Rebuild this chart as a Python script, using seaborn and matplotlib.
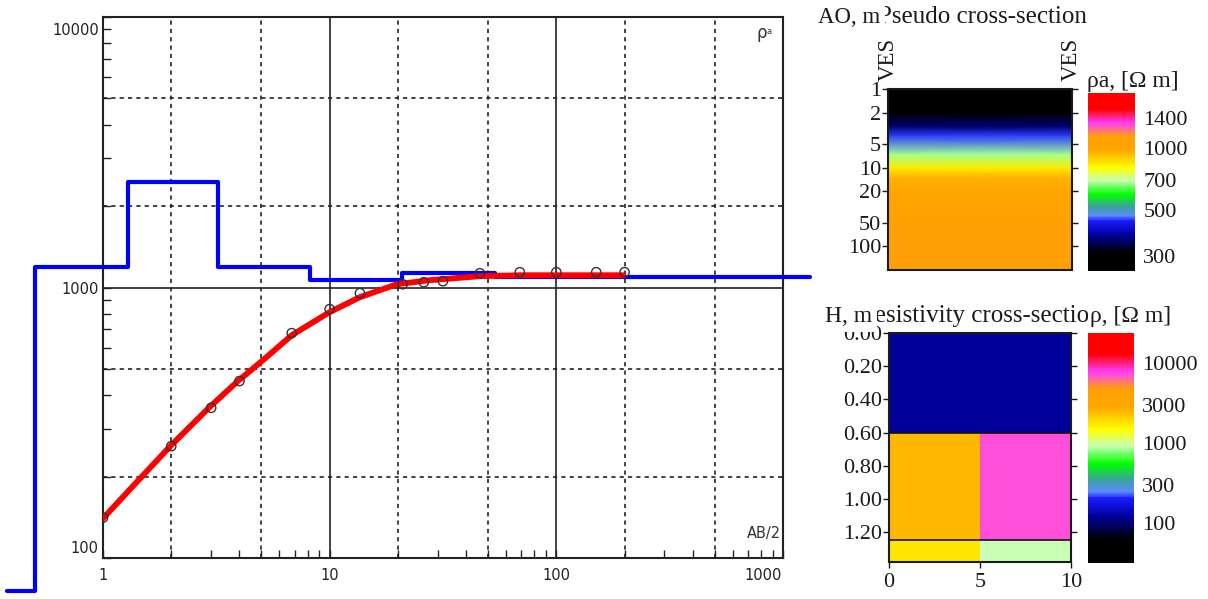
import numpy as np
import pandas as pd
import matplotlib
matplotlib.use('Agg')
import matplotlib.pyplot as plt
import seaborn as sns
from matplotlib.colors import LinearSegmentedColormap, LogNorm
from matplotlib.transforms import ScaledTranslation

# observed apparent resistivity (circles)
ab2_obs = [1, 2, 3, 4, 6.8, 10, 13.6, 21, 26, 31.6, 46, 69, 100, 150, 200]
rho_obs = [141, 259, 359, 451, 678, 832, 953, 1028, 1046, 1055, 1129, 1139, 1139, 1139, 1139]

# fitted curve (red)
ab2_fit = [1.0, 1.32, 1.98, 2.96, 3.94, 5.03, 6.82, 10.0, 13.6, 19.8, 27.6, 46, 69, 100, 197]
rho_fit = [140, 180, 259, 362, 451, 535, 667, 811, 921, 1028, 1064, 1101, 1110, 1110, 1110]

# layered model (blue step line)
depth_model = [0.377, 0.5, 0.5, 1.29, 1.29, 3.22, 3.22, 8.19, 8.19, 20.8, 20.8, 53.6, 53.6, 1315]
rho_model = [75.7, 75.7, 1188, 1188, 2450, 2450, 1190, 1190, 1064, 1064, 1129, 1129, 1091, 1091]

# grid lines of the sounding chart
xgrid_dashed = [2, 5, 20, 50, 200, 500]
xgrid_solid = [10, 100]
ygrid_dashed = [200, 500, 2000, 5000]
ygrid_solid = [1000]

# pseudo section axis
ao_ticks = [1, 2, 5, 10, 20, 50, 100]
cbar_top_ticks = [300, 500, 700, 1000, 1400]

# resistivity cross-section
res_x = [0, 5, 10]
res_depth = [0, 0.6, 1.25, 1.38]
res_rho = [[119, 119], [2480, 7200], [1745, 925]]
h_ticks = [0, 0.2, 0.4, 0.6, 0.8, 1.0, 1.2]
cbar_bot_ticks = [100, 300, 1000, 3000, 10000]

# colour scale
cmap_pos = [0, 0.10, 0.20, 0.28, 0.31, 0.36, 0.43, 0.51, 0.58, 0.68, 0.755, 0.785, 0.83, 0.91, 1.0]
cmap_col = ['#000000', '#000000', '#00009a', '#1a1aff', '#5a8cff', '#3ca0a0', '#00ff00',
            '#c8ffb4', '#ffff00', '#ffa500', '#ffa200', '#ff7f60', '#ff40ff', '#ff0000', '#ff0000']
cmap = LinearSegmentedColormap.from_list('ipi', list(zip(cmap_pos, cmap_col)))
norm_top = LogNorm(254, 1840)
norm_bot = LogNorm(31.6, 23700)

sns.set_theme(style='white')
plt.rcParams['font.family'] = ['DejaVu Sans']

W, H = 1208, 599
fig = plt.figure(figsize=(W / 100, H / 100), dpi=100)


def box(l, t, r, b):
    return [l / W, 1 - b / H, (r - l) / W, (b - t) / H]


def fx(px):
    return px / W


def fy(py):
    return 1 - py / H


def shift(label, dx, dy):
    label.set_transform(label.get_transform() + ScaledTranslation(dx / 100, dy / 100, fig.dpi_scale_trans))


serif = 'Liberation Serif'
ink = '#1a1a1a'

# ---- sounding curve ----
ax = fig.add_axes(box(103, 17, 783, 558))
ax.set_xscale('log')
ax.set_yscale('log')
ax.set_xlim(1, 1000)
ax.set_ylim(100, 10000)

for v in xgrid_dashed:
    ax.axvline(v, color='#222', lw=1.2, ls=(0, (2.5, 2.5)), zorder=1)
for v in xgrid_solid:
    ax.axvline(v, color='#222', lw=1.2, zorder=1)
for v in ygrid_dashed:
    ax.axhline(v, color='#222', lw=1.2, ls=(0, (2.5, 2.5)), zorder=1)
for v in ygrid_solid:
    ax.axhline(v, color='#222', lw=1.2, zorder=1)

model = pd.DataFrame({'depth': depth_model, 'rho': rho_model})
fit = pd.DataFrame({'ab2': ab2_fit, 'rho': rho_fit})
obs = pd.DataFrame({'ab2': ab2_obs, 'rho': rho_obs})
sns.lineplot(data=model, x='depth', y='rho', sort=False, estimator=None, color='#0000ff',
             lw=3, ax=ax, clip_on=False, zorder=3)
sns.lineplot(data=fit, x='ab2', y='rho', sort=False, estimator=None, color='#ff0000',
             lw=4.2, ax=ax, zorder=4)
sns.scatterplot(data=obs, x='ab2', y='rho', marker='o', s=45, facecolor='none',
                edgecolor='#333', linewidth=1, ax=ax, zorder=5)
ax.set_xlabel('')
ax.set_ylabel('')

ax.set_xticks([1, 10, 100, 1000], ['1', '10', '100', '1000'])
ax.set_yticks([100, 1000, 10000], ['100', '1000', '10000'])
minor = [k * 10 ** e for e in range(3) for k in range(2, 10)]
ax.set_xticks(minor, minor=True)
ax.set_yticks([m * 100 for m in minor[:16]], minor=True)
ax.set_xticklabels([], minor=True)
ax.set_yticklabels([], minor=True)
ax.tick_params(which='both', direction='in', length=6, width=1, color='#222',
               labelsize=10.5, labelcolor='#222', bottom=True, left=True)
ax.tick_params(axis='x', which='major', pad=7)
ax.tick_params(axis='y', which='major', pad=3)
for s in ax.spines.values():
    s.set_color('#222')
    s.set_linewidth(1.5)
yt = ax.yaxis.get_major_ticks()
shift(yt[0].label1, 0, 11)
shift(yt[-1].label1, 0, -12)
xt = ax.xaxis.get_major_ticks()
shift(xt[-1].label1, -20, 0)

fig.text(fx(762), fy(33), 'ρ', fontsize=12, color='#333', ha='center', va='center')
fig.text(fx(769), fy(31), 'a', fontsize=6, color='#333', ha='center', va='center')
fig.text(fx(781), fy(538), 'AB/2', fontsize=10.5, color='#333', ha='right', va='baseline')

# ---- pseudo cross-section ----
ax2 = fig.add_axes(box(888, 89, 1072, 270))
C = np.column_stack([rho_obs, rho_obs])
ax2.pcolormesh([0, 1], ab2_obs, C, cmap=cmap, norm=norm_top, shading='gouraud')
ax2.set_yscale('log')
ax2.set_ylim(200, 1)
ax2.set_xlim(0, 1)
ax2.set_xticks([])
ax2.set_yticks(ao_ticks, [str(v) for v in ao_ticks], fontfamily=serif, fontsize=16)
ax2.yaxis.set_minor_locator(matplotlib.ticker.NullLocator())
ax2.tick_params(axis='y', direction='out', length=4, width=1, color=ink, left=True,
                right=True, pad=1, labelcolor=ink)
for s in ax2.spines.values():
    s.set_color(ink)
    s.set_linewidth(1.5)

cax1 = fig.add_axes(box(1088, 93, 1135, 271))
cb1 = fig.colorbar(matplotlib.cm.ScalarMappable(norm=norm_top, cmap=cmap), cax=cax1)
cb1.minorticks_off()
cb1.set_ticks(cbar_top_ticks, labels=[str(v) for v in cbar_top_ticks], fontfamily=serif,
              fontsize=16, color=ink)
cb1.ax.tick_params(length=0, pad=6)
cb1.outline.set_visible(False)

fig.text(fx(878), fy(23), 'Pseudo cross-section', fontfamily=serif, fontsize=18,
         color=ink, va='baseline')
fig.text(fx(818), fy(23), 'AO, m', fontfamily=serif, fontsize=16.5, color=ink, va='baseline',
         bbox=dict(fc='white', ec='none', boxstyle='square,pad=0.22'))
for xv in [888, 1071]:
    fig.text(fx(xv), fy(59), 'VES', fontfamily=serif, fontsize=16.5, color=ink,
             rotation=90, ha='center', va='center')
fig.text(fx(1087), fy(87), 'ρa, [Ω m]', fontfamily=serif, fontsize=17, color=ink,
         va='baseline')

# ---- resistivity cross-section ----
ax3 = fig.add_axes(box(889, 333, 1071, 562))
ax3.pcolormesh(res_x, res_depth, np.array(res_rho), cmap=cmap, norm=norm_bot, shading='flat')
ax3.set_xlim(0, 10)
ax3.set_ylim(1.38, 0)
for d in res_depth[1:-1]:
    ax3.axhline(d, color='#111', lw=1.2)
ax3.set_yticks(h_ticks, ['%.2f' % v for v in h_ticks], fontfamily=serif, fontsize=16)
ax3.set_xticks([0, 5, 10], ['0', '5', '10'], fontfamily=serif, fontsize=16)
ax3.tick_params(direction='out', length=4, width=1, color=ink, left=True, right=True,
                bottom=True, pad=1, labelcolor=ink)
ax3.tick_params(axis='x', pad=4)
for s in ax3.spines.values():
    s.set_color(ink)
    s.set_linewidth(1.5)

cax2 = fig.add_axes(box(1088, 333, 1134, 563))
cb2 = fig.colorbar(matplotlib.cm.ScalarMappable(norm=norm_bot, cmap=cmap), cax=cax2)
cb2.minorticks_off()
cb2.set_ticks(cbar_bot_ticks, labels=[str(v) for v in cbar_bot_ticks], fontfamily=serif,
              fontsize=16, color=ink)
cb2.ax.tick_params(length=0, pad=6)
cb2.outline.set_visible(False)

fig.text(fx(858), fy(322), 'Resistivity cross-section', fontfamily=serif, fontsize=18,
         color=ink, va='baseline')
fig.text(fx(825), fy(322), 'H, m', fontfamily=serif, fontsize=17, color=ink, va='baseline',
         bbox=dict(fc='white', ec='none', boxstyle='square,pad=0.22'))
fig.text(fx(1090), fy(322), 'ρ, [Ω m]', fontfamily=serif, fontsize=17, color=ink,
         va='baseline', bbox=dict(fc='white', ec='none', boxstyle='square,pad=0.08'))

fig.savefig('out.png', dpi=100)
